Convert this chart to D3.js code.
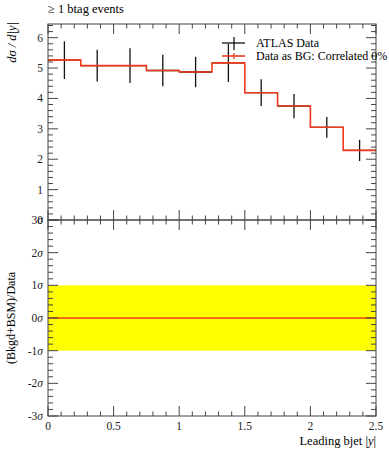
<!DOCTYPE html>
<html>
<head>
<meta charset="utf-8">
<script src="https://cdn.jsdelivr.net/npm/d3@7"></script>
<style>
  body { margin: 0; background: #fff; }
  svg { display: block; font-family: "Liberation Serif", "DejaVu Serif", serif; }
</style>
</head>
<body>
<div id="canvas"></div>
<script>
"use strict"

// bin edges in leading bjet |y|
let binEdges = [0, 0.25, 0.5, 0.75, 1, 1.25, 1.5, 1.75, 2, 2.25, 2.5];
// ATLAS data dsigma/d|y| and its error (the BG prediction equals the data)
let dataValues = [5.26, 5.08, 5.08, 4.92, 4.87, 5.17, 4.19, 3.75, 3.05, 2.29];
let dataErrors = [0.62, 0.52, 0.57, 0.52, 0.50, 0.63, 0.44, 0.40, 0.34, 0.35];
let xTickLabels = ["0", "0.5", "1", "1.5", "2", "2.5"];
let upperTicks = [1, 2, 3, 4, 5, 6];
let sigmaTicks = [-3, -2, -1, 0, 1, 2, 3];
let legendLabels = ["ATLAS Data", "Data as BG: Correlated 0%"];
let ratioBand = [-1, 1];

let W = 389, H = 450;
let left = 48, right = 376;
let top1 = 24, mid = 220, bot2 = 416;

let drawing = d3.select("#canvas")
    .append("svg")
    .attr("width", W)
    .attr("height", H);

let x = d3.scaleLinear().domain([0, 2.5]).range([left, right]);
let y1 = d3.scaleLinear().domain([0, 6.45]).range([mid, top1]);
let y2 = d3.scaleLinear().domain([-3, 3]).range([bot2, mid]);

let bins = dataValues.map((v, i) => ({ lo: binEdges[i], hi: binEdges[i + 1], v: v, e: dataErrors[i] }));

/* lower panel band */
drawing.append("rect")
    .attr("x", x(0))
    .attr("y", y2(ratioBand[1]))
    .attr("width", x(2.5) - x(0))
    .attr("height", y2(ratioBand[0]) - y2(ratioBand[1]))
    .attr("fill", "#ffff00");

drawing.append("line")
    .attr("x1", x(0)).attr("x2", x(2.5))
    .attr("y1", y2(0)).attr("y2", y2(0))
    .attr("stroke", "#ee3a1c")
    .attr("stroke-width", 1.4);

/* data: error bars and bin widths */
let dataG = drawing.append("g").attr("stroke", "#111").attr("stroke-width", 1.3);
dataG.selectAll(".ey").data(bins).join("line")
    .attr("x1", d => x((d.lo + d.hi) / 2)).attr("x2", d => x((d.lo + d.hi) / 2))
    .attr("y1", d => y1(d.v + d.e)).attr("y2", d => y1(d.v - d.e));
dataG.selectAll(".ex").data(bins).join("line")
    .attr("x1", d => x(d.lo)).attr("x2", d => x(d.hi))
    .attr("y1", d => y1(d.v)).attr("y2", d => y1(d.v));

/* BG histogram as step line */
let stepPts = [];
bins.forEach(d => { stepPts.push([d.lo, d.v]); stepPts.push([d.hi, d.v]); });
drawing.append("path")
    .datum(stepPts)
    .attr("d", d3.line().x(d => x(d[0])).y(d => y1(d[1])))
    .attr("fill", "none")
    .attr("stroke", "#ee3a1c")
    .attr("stroke-width", 1.6);

/* frames */
let frameColor = "#444";
[[top1, mid], [mid, bot2]].forEach(p => {
    drawing.append("rect")
        .attr("x", left).attr("y", p[0])
        .attr("width", right - left).attr("height", p[1] - p[0])
        .attr("fill", "none").attr("stroke", frameColor).attr("stroke-width", 1);
});

/* ticks: inward on all sides */
let tickG = drawing.append("g").attr("stroke", frameColor).attr("stroke-width", 1);
let xMinor = d3.range(0, 2.5001, 0.1);
function xTicks(yPos, dir) {
    tickG.selectAll(null).data(xMinor).join("line")
        .attr("x1", d => x(d)).attr("x2", d => x(d))
        .attr("y1", yPos)
        .attr("y2", d => yPos + dir * (Math.abs(d * 2 - Math.round(d * 2)) < 1e-6 ? 10 : 4.5));
}
xTicks(top1, 1);
xTicks(mid, -1);
xTicks(mid, 1);
xTicks(bot2, -1);

function yTicks(scale, lo, hi, majorStep) {
    let vals = d3.range(lo, hi + 1e-6, majorStep / 5);
    [[left, 1], [right, -1]].forEach(s => {
        tickG.selectAll(null).data(vals).join("line")
            .attr("x1", s[0])
            .attr("x2", d => s[0] + s[1] * (Math.abs(d / majorStep - Math.round(d / majorStep)) < 1e-6 ? 10 : 5))
            .attr("y1", d => scale(d)).attr("y2", d => scale(d));
    });
}
yTicks(y1, 0, 6.4, 1);
yTicks(y2, -3, 3, 1);

/* tick labels */
let lab = drawing.append("g").attr("font-size", 11.5).attr("fill", "#222");
lab.selectAll(null).data([0].concat(upperTicks)).join("text")
    .attr("x", left - 5)
    .attr("y", d => y1(d) + 4)
    .attr("text-anchor", "end")
    .text(d => d);

let sig = lab.selectAll(null).data(sigmaTicks).join("text")
    .attr("x", left - 5)
    .attr("y", d => y2(d) + 4)
    .attr("text-anchor", "end");
sig.append("tspan").text(d => (d < 0 ? "-" : "") + Math.abs(d));
sig.append("tspan").attr("font-style", "italic").text("\u03c3");

lab.selectAll(null).data(xTickLabels).join("text")
    .attr("x", d => x(+d))
    .attr("y", 430)
    .attr("text-anchor", "middle")
    .text(d => d);

/* titles */
drawing.append("text")
    .attr("x", left).attr("y", 13)
    .attr("font-size", 12.5)
    .text("\u2265 1 btag events");

drawing.append("text")
    .attr("transform", "translate(16," + (top1 - 2) + ") rotate(-90)")
    .attr("text-anchor", "end")
    .attr("font-size", 12.5)
    .attr("font-style", "italic")
    .text("d\u03c3 / d|y|");

drawing.append("text")
    .attr("transform", "translate(15," + y2(0) + ") rotate(-90)")
    .attr("text-anchor", "middle")
    .attr("font-size", 12)
    .text("(Bkgd+BSM)/Data");

let xl = drawing.append("text")
    .attr("x", right).attr("y", 445)
    .attr("text-anchor", "end")
    .attr("font-size", 12.5);
xl.append("tspan").text("Leading bjet |");
xl.append("tspan").attr("font-style", "italic").text("y");
xl.append("tspan").text("|");

/* legend */
let leg = drawing.append("g").attr("transform", "translate(222,43)");
leg.append("line").attr("x1", 0).attr("x2", 23).attr("y1", 0).attr("y2", 0)
    .attr("stroke", "#111").attr("stroke-width", 1.3);
leg.append("line").attr("x1", 12).attr("x2", 12).attr("y1", -6).attr("y2", 7)
    .attr("stroke", "#111").attr("stroke-width", 1.3);
leg.append("line").attr("x1", 0).attr("x2", 23).attr("y1", 13).attr("y2", 13)
    .attr("stroke", "#ee3a1c").attr("stroke-width", 1.6);
leg.append("line").attr("x1", 12).attr("x2", 12).attr("y1", 10).attr("y2", 16)
    .attr("stroke", "#ee3a1c").attr("stroke-width", 1.2);
leg.selectAll("text").data(legendLabels).join("text")
    .attr("x", 34)
    .attr("y", (d, i) => 4 + i * 13)
    .attr("font-size", 12)
    .text(d => d);
</script>
</body>
</html>
